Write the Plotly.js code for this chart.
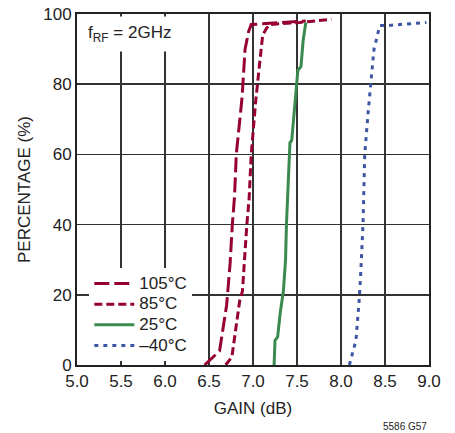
<!DOCTYPE html>
<html><head><meta charset="utf-8">
<script src="https://cdn.plot.ly/plotly-3.0.1.min.js"></script>
<style>html,body{margin:0;padding:0;background:#fff;}#c{width:455px;height:433px;}</style>
</head><body><div id="c"></div>
<script>
const gain105 = [6.45, 6.62, 6.70, 6.74, 6.765, 6.79, 6.81, 6.85, 6.875, 6.91, 6.95, 6.98, 7.3, 7.6];
const pct105  = [0, 4, 17, 29, 40, 48, 60, 70, 76, 90, 95, 97, 97.5, 98];
const gain85 = [6.69, 6.76, 6.85, 6.88, 6.93, 6.955, 6.98, 7.0, 7.03, 7.08, 7.11, 7.155, 7.19, 7.53, 7.89];
const pct85  = [0, 2.3, 18.5, 21, 40, 47, 60, 67, 75, 87, 94, 96, 97, 97.6, 98.5];
const gain25 = [7.24, 7.25, 7.28, 7.31, 7.345, 7.37, 7.38, 7.41, 7.42, 7.44, 7.48, 7.51, 7.545, 7.57, 7.6];
const pct25  = [0, 7, 8, 15, 21, 30, 40, 60, 63.4, 64, 75, 84, 85, 92.5, 97.6];
const gainM40 = [8.095, 8.14, 8.17, 8.205, 8.22, 8.25, 8.27, 8.31, 8.33, 8.35, 8.375, 8.40, 8.42, 8.44, 8.52, 8.67, 8.80, 8.97];
const pctM40  = [0, 4.3, 7, 18, 24, 40, 60, 72.5, 78, 85, 90, 92.5, 95, 96.7, 96.7, 97, 97.3, 97.6];
const xTicks = [5.0, 5.5, 6.0, 6.5, 7.0, 7.5, 8.0, 8.5, 9.0];
const yTicks = [0, 20, 40, 60, 80, 100];
const names = ['105°C', '85°C', '25°C', '–40°C'];

const F = '"Liberation Sans Narrow", "Arial Narrow", "Liberation Sans", Arial, sans-serif';
const red = '#960033', green = '#3a8a4e', blue = '#3d55a5';
const big = s => '<span style="font-size:17px">' + s + '</span>';

const traces = [
  {x: gain105, y: pct105, name: big(names[0]), mode: 'lines', line: {color: red, width: 3, dash: '15px,5px'}},
  {x: gain85, y: pct85, name: big(names[1]), mode: 'lines', line: {color: red, width: 3, dash: '8px,4px'}},
  {x: gain25, y: pct25, name: big(names[2]), mode: 'lines', line: {color: green, width: 3}},
  {x: gainM40, y: pctM40, name: big(names[3]), mode: 'lines', line: {color: blue, width: 3, dash: '4px,5px'}}
];

const layout = {
  width: 455, height: 433,
  margin: {l: 77, r: 26, t: 14, b: 68},
  paper_bgcolor: '#fff', plot_bgcolor: '#fff',
  font: {family: F, size: 16, color: '#222'},
  showlegend: true,
  legend: {x: 0.035, y: 0.276, xanchor: 'left', yanchor: 'top', bgcolor: '#fff', borderwidth: 0,
           font: {family: F, size: 13.6, color: '#222'}, tracegroupgap: 0, itemwidth: 40},
  xaxis: {range: [5, 9], tickvals: xTicks, ticktext: xTicks.map(v => v.toFixed(1)), ticks: '',
          showgrid: true, gridcolor: '#333', gridwidth: 1.5, zeroline: false,
          showline: true, mirror: true, linecolor: '#222', linewidth: 2,
          tickfont: {family: F, size: 17, color: '#222'},
          title: {text: 'GAIN (dB)', font: {family: F, size: 17, color: '#222'}, standoff: 12}},
  yaxis: {range: [0, 100], tickvals: yTicks, ticks: '',
          showgrid: true, gridcolor: '#333', gridwidth: 1.5, zeroline: false,
          showline: true, mirror: true, linecolor: '#222', linewidth: 2,
          tickfont: {family: F, size: 17, color: '#222'},
          title: {text: 'PERCENTAGE (%)', font: {family: F, size: 17, color: '#222'}, standoff: 8}},
  annotations: [
    {xref: 'paper', yref: 'paper', x: 0.01, y: 0.993, xanchor: 'left', yanchor: 'top',
     text: 'f<sub>RF</sub> = 2GHz', showarrow: false, bgcolor: '#fff',
     font: {family: F, size: 17, color: '#222'}, borderpad: 6},
    {xref: 'paper', yref: 'paper', x: 1.0, y: -0.174, xanchor: 'right', yanchor: 'middle',
     text: '5586 G57', showarrow: false, font: {family: F, size: 10, color: '#222'}}
  ]
};
Plotly.newPlot('c', traces, layout, {displayModeBar: false, staticPlot: true});
</script></body></html>
